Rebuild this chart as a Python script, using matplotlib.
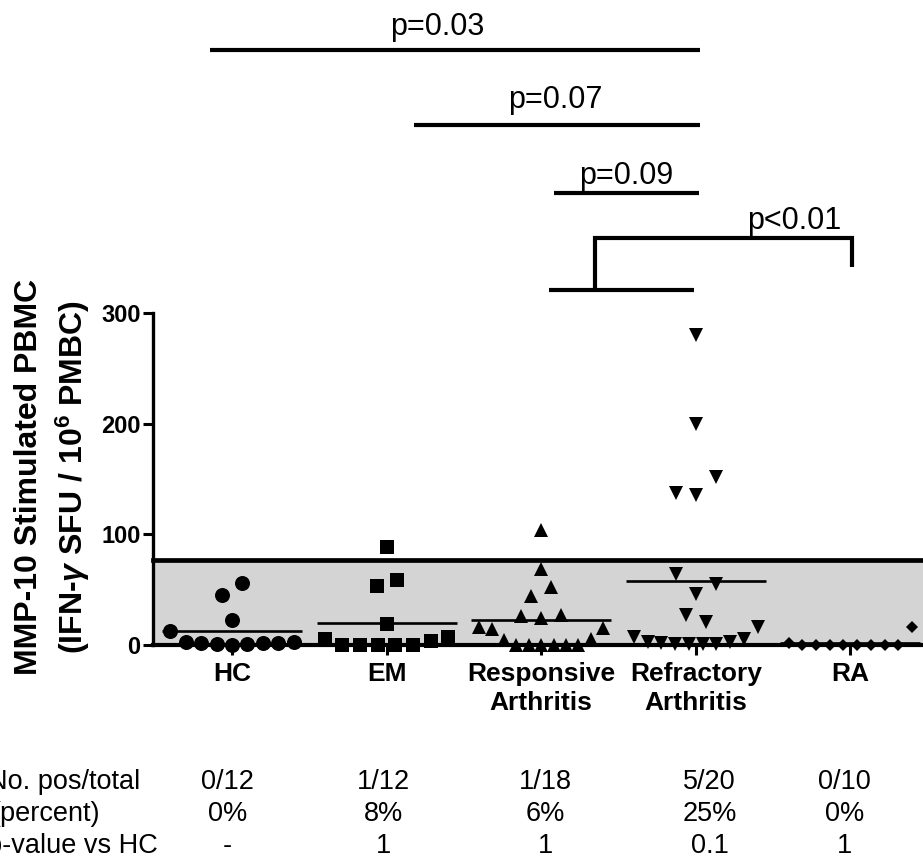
import matplotlib
matplotlib.use('Agg')
import matplotlib.pyplot as plt
import numpy as np
from matplotlib.transforms import blended_transform_factory

plt.rcParams['font.family'] = ['Liberation Sans', 'DejaVu Sans']
plt.rcParams['mathtext.fontset'] = 'custom'
plt.rcParams['mathtext.rm'] = 'Liberation Sans:bold'
plt.rcParams['mathtext.it'] = 'Liberation Sans:italic:bold'
plt.rcParams['mathtext.bf'] = 'Liberation Sans:bold'

# ---------------- data ----------------
categories = ['HC', 'EM', 'Responsive\nArthritis', 'Refractory\nArthritis', 'RA']
hc = [12.6, 3, 1.5, 1, 0, 1, 1.5, 2, 3, 22.6, 45, 56]
em = [5.4, 0, 0, 0, 0, 0, 3.6, 7, 19, 53.3, 58.7, 88.5]
responsive = [16, 14.5, 4.5, 0, 0, 0, 0, 0, 0, 5.4, 15.4, 26, 24.4, 27, 44.3, 52.4, 68.7, 104]
refractory = [7, 3, 1.5, 1, 0.5, 0.5, 1, 3, 5, 16, 27, 21, 64.5, 46.5, 55, 137, 135.5, 151.8, 200, 280]
ra = [2, 0, 0, 0, 0, 0, 0, 0, 0, 16]
groups = [hc, em, responsive, refractory, ra]
markers = ['o', 's', '^', 'v', 'D']
marker_sizes = [10.8, 9.6, 10.5, 10.5, 6.5]

cutoff = 77
yticks = [0, 100, 200, 300]

row_labels = ['No. pos/total', '(percent)', 'p-value vs HC']
pos_total = ['0/12', '1/12', '1/18', '5/20', '0/10']
percent = ['0%', '8%', '6%', '25%', '0%']
p_vs_hc = ['-', '1', '1', '0.1', '1']
table_rows = [pos_total, percent, p_vs_hc]
table_cols = [-0.03, 0.98, 2.03, 3.09, 3.96]

bar_labels = ['p=0.03', 'p=0.07', 'p=0.09']
bar_spans = [(-0.14, 3.03, 537.5), (1.18, 3.03, 470), (2.08, 3.02, 408)]
bar_label_pos = [(1.33, 551), (2.09, 485), (2.55, 417)]
bracket_label = 'p<0.01'
bracket_label_pos = (3.64, 375.5)
bracket_base = (2.05, 2.99, 320.7)
bracket_stem_x = 2.35
bracket_top_y = 367.5
bracket_right_x = 4.01
bracket_right_end = 341.5

# ---------------- layout helper ----------------
def swarm_offsets(values, delta=18.5, step_nat=0.129, span_max=0.80):
    v = np.asarray(values, float)
    order = np.argsort(v, kind='stable')
    row = np.empty(len(v), int)
    r, start = -1, None
    for i in order:
        if start is None or v[i] - start > delta:
            r += 1
            start = v[i]
        row[i] = r
    off = np.zeros(len(v))
    for k in range(r + 1):
        idx = np.where(row == k)[0]
        n = len(idx)
        if n > 1:
            step = min(step_nat, span_max / (n - 1))
            off[idx] = (np.arange(n) - (n - 1) / 2) * step
    return off

# ---------------- figure ----------------
W, H = 923, 859
fig = plt.figure(figsize=(W / 100, H / 100), dpi=100)
ax = fig.add_axes([153 / W, 214 / H, (W - 153) / W, 332 / H])
ax.set_xlim(-0.511, 4.47)
ax.set_ylim(0, 300)

ax.axhspan(0, cutoff, color='#d4d4d4', zorder=0, lw=0)
ax.axhline(cutoff, color='black', lw=3.4, zorder=1, clip_on=False)

for i, (vals, m, ms) in enumerate(zip(groups, markers, marker_sizes)):
    off = swarm_offsets(vals)
    ax.plot(i + off, vals, linestyle='none', marker=m, ms=ms, color='black',
            markeredgewidth=0, zorder=3, clip_on=False)
    mean = float(np.mean(vals))
    ax.hlines(mean, i - 0.453, i + 0.453, color='black', lw=1.9, zorder=2)

for s in ['top', 'right']:
    ax.spines[s].set_visible(False)
ax.spines['left'].set_linewidth(2.4)
ax.spines['bottom'].set_linewidth(3.0)
ax.spines['bottom'].set_zorder(2.5)

ax.set_yticks(yticks)
ax.set_yticklabels([str(t) for t in yticks], fontsize=17, fontweight='bold')
ax.tick_params(axis='y', length=7, width=2.2, pad=2)
ax.set_xticks(range(len(categories)))
ax.set_xticklabels(categories, fontsize=19, fontweight='bold', linespacing=1.3)
ax.tick_params(axis='x', length=7, width=2.2, pad=5)

fig.text(53 / W, 1 - 477 / H,
         'MMP-10 Stimulated PBMC\n(IFN-$\\gamma$ SFU / 10$^{6}$ PMBC)',
         rotation=90, ha='center', va='center', fontsize=23, fontweight='bold',
         multialignment='center', linespacing=1.35)

# significance bars
for lab, (x1, x2, y), (tx, ty) in zip(bar_labels, bar_spans, bar_label_pos):
    ax.plot([x1, x2], [y, y], color='black', lw=3.0, clip_on=False,
            solid_capstyle='butt')
    ax.text(tx, ty, lab, ha='center', va='baseline', fontsize=22, clip_on=False)

bx1, bx2, by = bracket_base
ax.plot([bx1, bx2], [by, by], color='black', lw=3.0, clip_on=False, solid_capstyle='butt')
ax.plot([bracket_stem_x, bracket_stem_x, bracket_right_x, bracket_right_x],
        [by, bracket_top_y, bracket_top_y, bracket_right_end],
        color='black', lw=3.0, clip_on=False, solid_joinstyle='miter', solid_capstyle='butt')
ax.text(bracket_label_pos[0], bracket_label_pos[1], bracket_label, ha='center',
        va='baseline', fontsize=22, clip_on=False)

# table
trans = blended_transform_factory(ax.transData, fig.transFigure)
row_base = [789, 821, 853]
row_label_x = [-12, -9, -13]
for lab, vals, yb, lx in zip(row_labels, table_rows, row_base, row_label_x):
    fig.text(lx / W, 1 - yb / H, lab, ha='left', va='baseline', fontsize=19.5)
    for xc, v in zip(table_cols, vals):
        ax.text(xc, 1 - yb / H, v, transform=trans, ha='center', va='baseline',
                fontsize=19.5, clip_on=False)

fig.savefig('out.png', dpi=100)
